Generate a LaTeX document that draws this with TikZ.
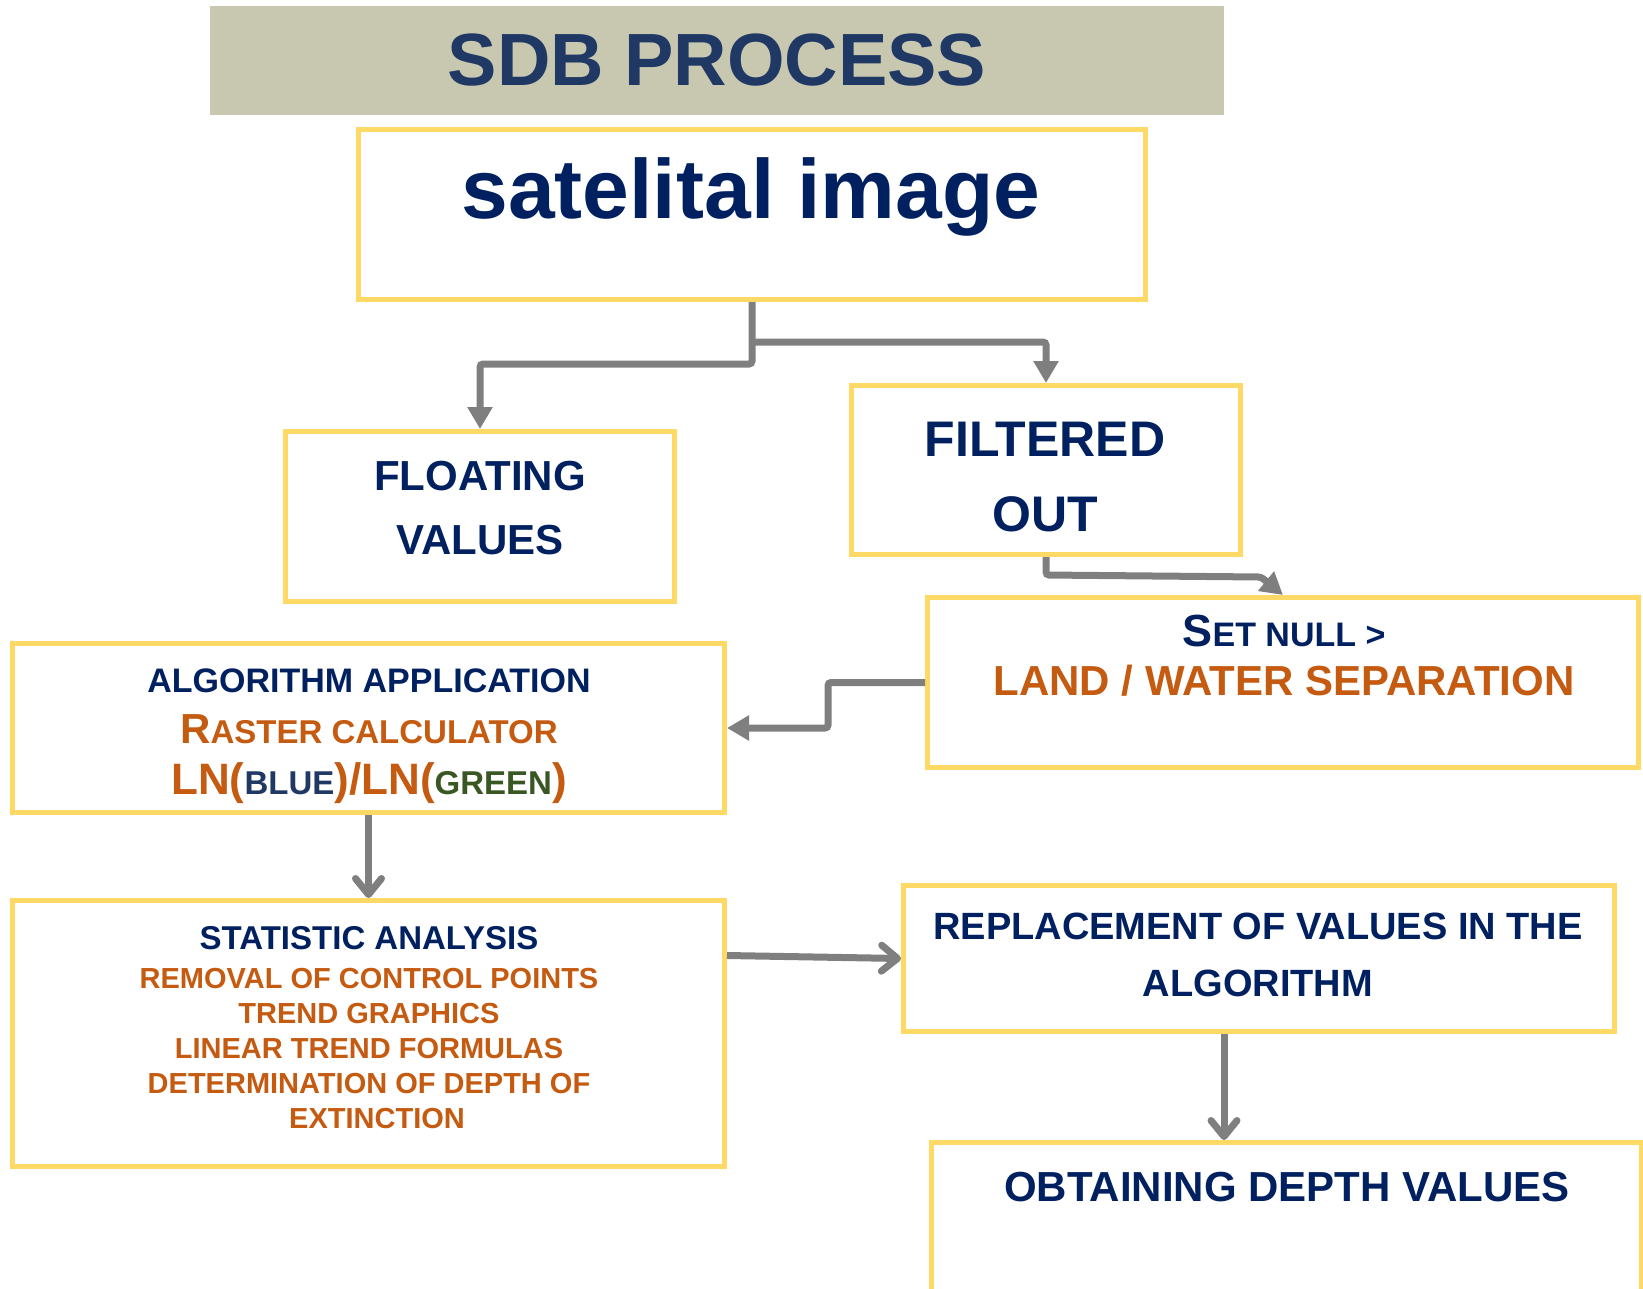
\documentclass[tikz,border=0pt]{standalone}
\usepackage{fontspec}
\setmainfont{Liberation Sans}
\usetikzlibrary{arrows.meta}
\definecolor{sdbnavy}{HTML}{002060}
\definecolor{sdbtitle}{HTML}{1F3864}
\definecolor{sdborange}{HTML}{C55A11}
\definecolor{sdbgreen}{HTML}{385723}
\definecolor{sdbgold}{HTML}{FFD966}
\definecolor{sdbgray}{HTML}{7F7F7F}
\definecolor{sdbkhaki}{HTML}{C8C7B0}
\tikzset{
every picture/.style={
line width=5pt
}}

\begin{document}
\begin{tikzpicture}[x=1pt, y=-1pt,
block/.style = {rectangle, draw=sdbgold, line width=5pt, inner sep=0pt},
txt/.style = {inner sep=0pt, align=center, text=sdbnavy},
link/.style = {draw=sdbgray, line width=7pt, rounded corners=3pt, -{Triangle[length=22pt,width=24pt]}},
openlink/.style = {draw=sdbgray, line width=7pt, -{Straight Barb[length=16pt,width=26pt,round]}}]
\useasboundingbox (0,0) rectangle (1643,1288);

\node[fill=sdbkhaki, inner sep=0pt, minimum width=1014pt, minimum height=109pt, text=sdbtitle,
  font=\fontsize{74}{80}\selectfont\bfseries] at (717,60.5) (head) {SDB PROCESS};

% boxes
\node[block, minimum width=787pt, minimum height=170pt] at (752,214.5) (sat) {};
\node[block, minimum width=389pt, minimum height=170pt] at (480,516.5) (float) {};
\node[block, minimum width=389pt, minimum height=169pt] at (1046,470) (filt) {};
\node[block, minimum width=711pt, minimum height=170pt] at (1283,682.5) (setnull) {};
\node[block, minimum width=712pt, minimum height=169pt] at (368.5,728) (algo) {};
\node[block, minimum width=712pt, minimum height=266pt] at (368.5,1033.5) (stat) {};
\node[block, minimum width=711pt, minimum height=146pt] at (1259,958.5) (repl) {};
\node[block, minimum width=710pt, minimum height=175pt] at (1286,1230) (obtain) {};

% texts
\node[txt, font=\fontsize{84}{90}\selectfont\bfseries] at (751,197) (satText) {satelital image};
\node[txt, font=\fontsize{42}{64}\selectfont\bfseries] at (480,508) (floatText) {FLOATING\\VALUES};
\node[txt, font=\fontsize{50}{75}\selectfont\bfseries] at (1045,477) (filtText) {FILTERED\\OUT};
\node[txt, font=\fontsize{42}{49}\selectfont\bfseries] at (1284,656) (setnullText)
  {{\fontsize{45}{49}\selectfont S}{\fontsize{34}{49}\selectfont ET NULL >}\\
   \textcolor{sdborange}{LAND / WATER SEPARATION}};
\node[txt, font=\fontsize{34}{51}\selectfont\bfseries] at (369,736) (algoText)
  {ALGORITHM APPLICATION\\
   \color{sdborange}{\fontsize{42}{51}\selectfont R}{\fontsize{33}{51}\selectfont ASTER CALCULATOR}\\
   \color{sdborange}\fontsize{44}{51}\selectfont LN({\fontsize{33}{51}\selectfont\color{sdbtitle}BLUE})/LN({\fontsize{33}{51}\selectfont\color{sdbgreen}GREEN})};
\node[txt, text=sdborange, font=\fontsize{29}{35}\selectfont\bfseries] at (369,1028) (statText)
  {{\fontsize{33}{35}\selectfont\color{sdbnavy}STATISTIC ANALYSIS}\\[4pt]
   REMOVAL OF CONTROL POINTS\\TREND GRAPHICS\\LINEAR TREND FORMULAS\\
   DETERMINATION OF DEPTH OF\\\hspace*{16pt}EXTINCTION};
\node[txt, font=\fontsize{38}{57}\selectfont\bfseries] at (1258,955) (replText)
  {REPLACEMENT OF VALUES IN THE\\ALGORITHM};
\node[txt, font=\fontsize{42}{50}\selectfont\bfseries] at (1287,1187) (obtainText) {OBTAINING DEPTH VALUES};

% connectors
\draw[link] (sat.south) -- ++(0,62) -| (float.north);
\draw[link] ([yshift=-40pt]sat.south) -| (filt.north);
\draw[link] (filt.south) -- ++(0,18) -- ++(215,2) -- (setnull.north);
\draw[link] (setnull.west) -- ++(-97,0) |- (algo.east);
\draw[openlink] (algo.south) -- (stat.north);
\draw[openlink] ([yshift=78pt]stat.east) -- (repl.west);
\draw[openlink] ([xshift=-35pt]repl.south) -- ([xshift=-35pt]repl.south |- obtain.north);
\end{tikzpicture}
\end{document}
